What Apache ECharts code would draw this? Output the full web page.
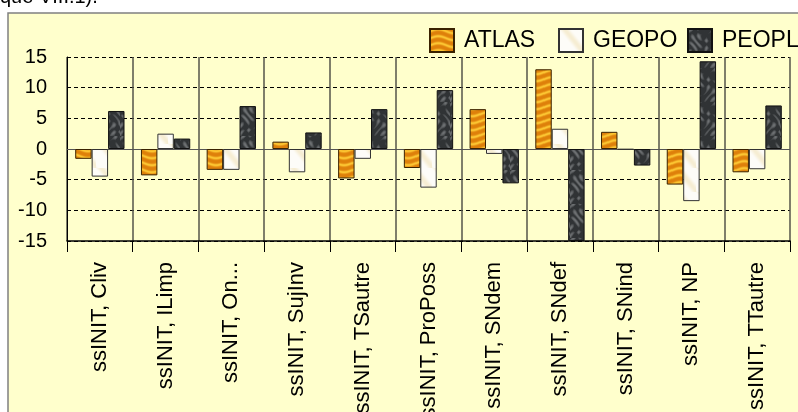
<!DOCTYPE html>
<html>
<head>
<meta charset="utf-8">
<script src="https://cdn.jsdelivr.net/npm/echarts@6/dist/echarts.min.js"></script>
<style>
html,body{margin:0;padding:0;background:#fff;}
#chart{width:798px;height:412px;}
</style>
</head>
<body>
<div id="chart"></div>
<script>
// ---- data ----
const categories = ['ssINIT, Cliv','ssINIT, ILimp','ssINIT, On...','ssINIT, SujInv','ssINIT, TSautre','ssINIT, ProPoss','ssINIT, SNdem','ssINIT, SNdef','ssINIT, SNind','ssINIT, NP','ssINIT, TTautre'];
const seriesNames = ['ATLAS','GEOPO','PEOPLE'];
const atlas  = [-1.6, -4.3, -3.4, 1.2, -4.8, -3.1, 6.5, 13.0, 2.8, -5.8, -3.8];
const geopo  = [-4.5, 2.5, -3.4, -3.8, -1.6, -6.3, -0.8, 3.3, -0.1, -8.5, -3.3];
const people = [6.2, 1.7, 7.0, 2.7, 6.5, 9.6, -5.6, -15.0, -2.7, 14.3, 7.1];
const yTicks = {min: -15, max: 15, interval: 5};
const headerText = 'que VIII.1).';

// ---- textures (style only) ----
function makeCanvas(w, h, fn) {
  const c = document.createElement('canvas');
  c.width = w; c.height = h;
  const ctx = c.getContext('2d');
  const img = ctx.createImageData(w, h);
  for (let y = 0; y < h; y++) for (let x = 0; x < w; x++) {
    const [r, g, b] = fn(x, y);
    const i = (y * w + x) * 4;
    img.data[i] = r; img.data[i+1] = g; img.data[i+2] = b; img.data[i+3] = 255;
  }
  ctx.putImageData(img, 0, 0);
  return c;
}
const atlasTex = makeCanvas(32, 28, (x, y) => {
  const v = 0.5 + 0.5 * Math.sin(y * 0.9 + 1.8 * Math.sin(x * 0.2));
  const w = v * v;
  return [Math.round(222 + 30 * w), Math.round(128 + 70 * w), Math.round(10 + 40 * w)];
});
const peopleTex = makeCanvas(30, 34, (x, y) => {
  const a = Math.sin(x * 0.55 + 2.2 * Math.sin(y * 0.23));
  const b = Math.sin(y * 0.41 + 1.7 * Math.sin(x * 0.31 + 0.8));
  const v = Math.max(0, a * b);
  const c = Math.round(48 + 62 * v);
  return [c, c + 3, c + 5];
});
const geopoTex = makeCanvas(24, 24, (x, y) => {
  const v = Math.max(0, Math.sin(x * 0.22 - y * 0.18 + 0.4));
  const k = v * v * 0.5;
  return [Math.round(253 - 14 * k), Math.round(252 - 30 * k), Math.round(248 - 75 * k)];
});

const fills = [
  {image: atlasTex, repeat: 'repeat'},
  {image: geopoTex, repeat: 'repeat'},
  {image: peopleTex, repeat: 'repeat'}
];
const borders = ['#3a2200', '#333333', '#111111'];
const dataSets = [atlas, geopo, people];
const legendLefts = [424, 553, 682];
const FONT = '"Liberation Sans", Arial, sans-serif';

const chart = echarts.init(document.getElementById('chart'), null, {renderer: 'canvas'});
const series = seriesNames.map((n, i) => ({
  name: n,
  type: 'bar',
  data: dataSets[i],
  barGap: '0%',
  barCategoryGap: '25%',
  itemStyle: {color: fills[i], borderColor: borders[i], borderWidth: 1},
  emphasis: {disabled: true}
}));
series.push({
  name: 'zero',
  type: 'line',
  data: [],
  silent: true,
  z: 1,
  markLine: {
    silent: true,
    z: 1,
    symbol: 'none',
    label: {show: false},
    lineStyle: {color: '#555', type: 'solid', width: 1},
    data: [{yAxis: 0}]
  }
});

const legends = seriesNames.map((n, i) => ({
  data: [n],
  left: legendLefts[i],
  top: 23,
  width: 300,
  orient: 'horizontal',
  icon: 'rect',
  itemWidth: 24,
  itemHeight: 23,
  selectedMode: false,
  textStyle: {fontSize: 23, color: '#000', fontFamily: FONT, padding: [0, 0, 0, 5]}
}));

chart.setOption({
  animation: false,
  backgroundColor: '#ffffff',
  graphic: [
    {type: 'rect', z: -10, shape: {x: 8, y: 13, width: 820, height: 420},
     style: {fill: '#FFFFCC', stroke: '#808080', lineWidth: 1.5}},
    {type: 'text', z: -5, x: 0, y: -3,
     style: {text: headerText, font: '20px ' + FONT, fill: '#000', verticalAlign: 'middle', align: 'left'}}
  ],
  legend: legends,
  grid: {left: 67, right: 8, top: 57, bottom: 171, containLabel: false, outerBoundsMode: 'none'},
  xAxis: {
    type: 'category',
    data: categories,
    boundaryGap: true,
    axisLine: {show: true, onZero: false, lineStyle: {color: '#000', width: 1.5}},
    axisTick: {show: true, length: 11, lineStyle: {color: '#000', width: 1}},
    splitLine: {show: true, lineStyle: {color: '#55554a', width: 1.5}},
    axisLabel: {rotate: 90, interval: 0, fontSize: 22, color: '#000', margin: 21, fontFamily: FONT}
  },
  yAxis: {
    type: 'value',
    min: yTicks.min,
    max: yTicks.max,
    interval: yTicks.interval,
    axisLine: {show: true, lineStyle: {color: '#000', width: 1}},
    axisTick: {show: false},
    axisLabel: {fontSize: 20, color: '#000', margin: 20, fontFamily: FONT},
    splitLine: {show: true, lineStyle: {color: '#000', width: 1, type: [4, 3]}}
  },
  series: series
});
</script>
</body>
</html>
